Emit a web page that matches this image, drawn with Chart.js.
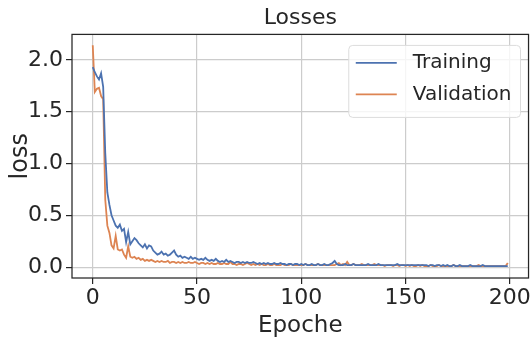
<!DOCTYPE html>
<html>
<head>
<meta charset="utf-8">
<script src="https://cdn.jsdelivr.net/npm/chart.js@4/dist/chart.umd.min.js"></script>
<style>
    html, body { margin: 0; padding: 0; background: #ffffff; }
    #wrap { width: 532px; height: 340px; }
</style>
</head>
<body>
<div id="wrap"><canvas id="lossChart" width="532" height="340"></canvas></div>
<script>
// Chart data
const epochs = Array.from({ length: 200 }, (_, i) => i);

const trainingLoss = [
    1.93, 1.88, 1.84, 1.81, 1.87, 1.74, 1.10, 0.72, 0.60, 0.50,
    0.45, 0.40, 0.38, 0.41, 0.35, 0.37, 0.24, 0.34, 0.22, 0.25,
    0.28, 0.26, 0.23, 0.21, 0.19, 0.22, 0.18, 0.21, 0.20, 0.16,
    0.14, 0.12, 0.13, 0.15, 0.12, 0.13, 0.11, 0.12, 0.14, 0.16,
    0.12, 0.10, 0.11, 0.09, 0.10, 0.09, 0.08, 0.10, 0.08, 0.09,
    0.08, 0.07, 0.08, 0.07, 0.09, 0.07, 0.06, 0.07, 0.06, 0.08,
    0.06, 0.05, 0.06, 0.05, 0.07, 0.05, 0.06, 0.05, 0.04, 0.05,
    0.05, 0.04, 0.05, 0.04, 0.05, 0.04, 0.04, 0.05, 0.04, 0.03,
    0.04, 0.03, 0.04, 0.03, 0.04, 0.03, 0.03, 0.04, 0.03, 0.03,
    0.04, 0.03, 0.03, 0.02, 0.03, 0.03, 0.02, 0.03, 0.03, 0.02,
    0.03, 0.02, 0.03, 0.02, 0.02, 0.03, 0.02, 0.02, 0.03, 0.02,
    0.02, 0.03, 0.02, 0.02, 0.03, 0.04, 0.06, 0.03, 0.02, 0.02,
    0.02, 0.03, 0.02, 0.02, 0.02, 0.03, 0.02, 0.02, 0.02, 0.02,
    0.02, 0.02, 0.03, 0.02, 0.02, 0.02, 0.02, 0.03, 0.02, 0.02,
    0.02, 0.02, 0.02, 0.02, 0.02, 0.02, 0.03, 0.02, 0.02, 0.02,
    0.02, 0.02, 0.02, 0.02, 0.02, 0.02, 0.02, 0.02, 0.02, 0.02,
    0.02, 0.01, 0.02, 0.02, 0.01, 0.02, 0.02, 0.01, 0.02, 0.01,
    0.02, 0.01, 0.01, 0.02, 0.01, 0.01, 0.02, 0.01, 0.01, 0.01,
    0.01, 0.02, 0.01, 0.01, 0.01, 0.01, 0.01, 0.02, 0.01, 0.01,
    0.01, 0.01, 0.01, 0.01, 0.01, 0.01, 0.01, 0.01, 0.01, 0.01
];

const validationLoss = [
    2.14, 1.69, 1.72, 1.73, 1.65, 1.62, 0.65, 0.40, 0.33, 0.21,
    0.18, 0.30, 0.17, 0.16, 0.17, 0.12, 0.09, 0.20, 0.10, 0.09,
    0.10, 0.08, 0.09, 0.07, 0.08, 0.06, 0.07, 0.06, 0.07, 0.06,
    0.05, 0.06, 0.05, 0.06, 0.05, 0.05, 0.06, 0.04, 0.05, 0.05,
    0.04, 0.05, 0.04, 0.05, 0.04, 0.04, 0.05, 0.04, 0.04, 0.05,
    0.04, 0.03, 0.04, 0.04, 0.03, 0.04, 0.03, 0.04, 0.03, 0.03,
    0.04, 0.03, 0.03, 0.04, 0.03, 0.03, 0.05, 0.03, 0.03, 0.02,
    0.03, 0.03, 0.02, 0.03, 0.04, 0.03, 0.02, 0.03, 0.02, 0.03,
    0.02, 0.03, 0.02, 0.02, 0.03, 0.02, 0.02, 0.03, 0.02, 0.02,
    0.02, 0.03, 0.02, 0.02, 0.02, 0.03, 0.02, 0.02, 0.02, 0.02,
    0.02, 0.02, 0.03, 0.02, 0.02, 0.02, 0.02, 0.02, 0.03, 0.02,
    0.02, 0.02, 0.02, 0.02, 0.02, 0.02, 0.02, 0.03, 0.04, 0.02,
    0.03, 0.02, 0.05, 0.02, 0.02, 0.03, 0.02, 0.02, 0.02, 0.03,
    0.02, 0.02, 0.02, 0.02, 0.02, 0.03, 0.02, 0.02, 0.02, 0.02,
    0.01, 0.02, 0.02, 0.02, 0.01, 0.02, 0.02, 0.01, 0.02, 0.02,
    0.01, 0.02, 0.01, 0.02, 0.01, 0.01, 0.02, 0.01, 0.02, 0.01,
    0.01, 0.01, 0.02, 0.01, 0.01, 0.01, 0.02, 0.01, 0.01, 0.01,
    0.01, 0.01, 0.01, 0.02, 0.01, 0.01, 0.01, 0.01, 0.01, 0.01,
    0.01, 0.01, 0.01, 0.01, 0.01, 0.02, 0.01, 0.01, 0.01, 0.01,
    0.01, 0.01, 0.01, 0.01, 0.01, 0.01, 0.01, 0.01, 0.01, 0.04
];

const xTicks = [0, 50, 100, 150, 200];
const yTicks = [0, 0.5, 1.0, 1.5, 2.0];

const FONT = '"DejaVu Sans", sans-serif';
const TEXT_COLOR = '#262626';

// Frame around the plot area (matplotlib-style spines)
const framePlugin = {
    id: 'frame',
    afterDraw(chart) {
        const { ctx, chartArea } = chart;
        ctx.save();
        ctx.strokeStyle = TEXT_COLOR;
        ctx.lineWidth = 1.25;
        ctx.strokeRect(chartArea.left, chartArea.top,
            chartArea.right - chartArea.left, chartArea.bottom - chartArea.top);
        ctx.restore();
    }
};

// Legend box drawn inside the plot, upper right
const innerLegendPlugin = {
    id: 'innerLegend',
    afterDraw(chart) {
        const { ctx, chartArea } = chart;
        const sets = chart.data.datasets;
        ctx.save();
        ctx.font = '20px ' + FONT;
        const textW = Math.max(...sets.map(d => ctx.measureText(d.label).width));
        const rowH = 31.5;
        const lineLen = 41;
        const boxW = 7 + lineLen + 16 + textW + 9;
        const boxH = sets.length * rowH + 9;
        const boxX = chartArea.right - 8 - boxW;
        const boxY = chartArea.top + 11;

        ctx.fillStyle = 'rgba(255, 255, 255, 0.8)';
        ctx.strokeStyle = '#dcdcdc';
        ctx.lineWidth = 1;
        ctx.beginPath();
        ctx.roundRect(boxX, boxY, boxW, boxH, 4);
        ctx.fill();
        ctx.stroke();

        sets.forEach((d, i) => {
            const cy = boxY + 17.5 + i * rowH;
            ctx.strokeStyle = d.borderColor;
            ctx.lineWidth = 1.8;
            ctx.beginPath();
            ctx.moveTo(boxX + 7, cy);
            ctx.lineTo(boxX + 7 + lineLen, cy);
            ctx.stroke();
            ctx.fillStyle = TEXT_COLOR;
            ctx.textBaseline = 'middle';
            ctx.textAlign = 'left';
            ctx.fillText(d.label, boxX + 7 + lineLen + 16, cy);
        });
        ctx.restore();
    }
};

const ctx = document.getElementById('lossChart').getContext('2d');

new Chart(ctx, {
    type: 'line',
    data: {
        datasets: [
            {
                label: 'Training',
                data: epochs.map((e, i) => ({ x: e, y: trainingLoss[i] })),
                borderColor: '#4C72B0',
                borderWidth: 1.8,
                pointRadius: 0,
                tension: 0,
                fill: false
            },
            {
                label: 'Validation',
                data: epochs.map((e, i) => ({ x: e, y: validationLoss[i] })),
                borderColor: '#DD8452',
                borderWidth: 1.8,
                pointRadius: 0,
                tension: 0,
                fill: false
            }
        ]
    },
    options: {
        responsive: false,
        animation: false,
        layout: { padding: { left: 0, right: 1, top: 0, bottom: 0 } },
        plugins: {
            legend: { display: false },
            tooltip: { enabled: false },
            title: {
                display: true,
                text: 'Losses',
                fullSize: false,
                color: TEXT_COLOR,
                font: { family: FONT, size: 22, weight: 'normal' },
                padding: { top: 5, bottom: 3 }
            }
        },
        scales: {
            x: {
                type: 'linear',
                min: -9.95,
                max: 208.95,
                afterBuildTicks: scale => { scale.ticks = xTicks.map(v => ({ value: v })); },
                afterFit: scale => { scale.height = 62; },
                border: { display: false },
                grid: { color: '#cccccc', lineWidth: 1.2, tickColor: TEXT_COLOR, tickLength: 6 },
                ticks: {
                    color: TEXT_COLOR,
                    font: { family: FONT, size: 22 },
                    padding: 1,
                    maxRotation: 0,
                    autoSkip: false
                },
                title: {
                    display: true,
                    text: 'Epoche',
                    color: TEXT_COLOR,
                    font: { family: FONT, size: 23 },
                    padding: { top: 0, bottom: 0 }
                }
            },
            y: {
                type: 'linear',
                min: -0.105,
                max: 2.245,
                afterBuildTicks: scale => { scale.ticks = yTicks.map(v => ({ value: v })); },
                afterFit: scale => { scale.width = 72; },
                border: { display: false },
                grid: { color: '#cccccc', lineWidth: 1.2, tickColor: TEXT_COLOR, tickLength: 6 },
                ticks: {
                    color: TEXT_COLOR,
                    font: { family: FONT, size: 22 },
                    padding: 3,
                    autoSkip: false,
                    callback: value => value.toFixed(1)
                },
                title: {
                    display: true,
                    text: 'loss',
                    color: TEXT_COLOR,
                    font: { family: FONT, size: 24 },
                    padding: { top: 6, bottom: 0 }
                }
            }
        }
    },
    plugins: [framePlugin, innerLegendPlugin]
});
</script>
</body>
</html>
